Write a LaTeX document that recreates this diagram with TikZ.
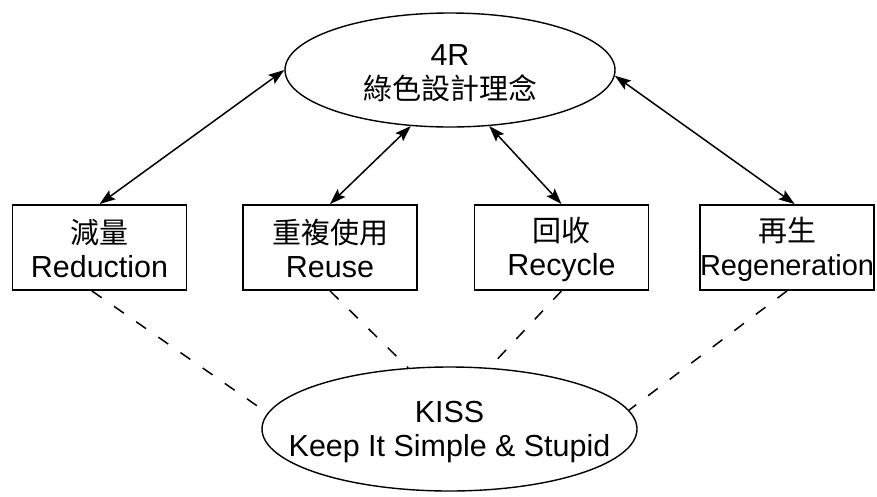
\documentclass[tikz,border=0pt]{standalone}
\usepackage{fontspec}
\setmainfont{Liberation Sans}[Scale=1.05]
\newfontfamily\cjk{Noto Sans CJK TC}
\usetikzlibrary{shapes.geometric,arrows.meta}
\newcommand\vstrut{\rule[-3pt]{0pt}{31pt}}
\begin{document}
\begin{tikzpicture}[x=1pt,y=-1pt,
  txt/.style={font=\fontsize{29}{34}\selectfont, align=center},
  oval/.style={draw, line width=1.4pt, ellipse, inner sep=0pt, txt},
  stagebox/.style={draw, line width=1.8pt, rectangle, minimum width=174pt, minimum height=85pt, inner xsep=0pt, inner ysep=0pt, text width=174pt, txt},
  link/.style={line width=1.5pt, {Stealth[length=16pt,width=11pt,inset=3pt]}-{Stealth[length=16pt,width=11pt,inset=3pt]}},
  dlink/.style={line width=1.5pt, dash pattern=on 12pt off 15pt}
]
\useasboundingbox (0,0) rectangle (877,496);
\node[oval, minimum width=330pt, minimum height=114pt] (top) at (450,70) {\vstrut 4R\\\vstrut{\cjk 綠色設計理念}};
\node[stagebox] (b1) at (99.5,247.5) {\vstrut{\cjk 減量}\\\vstrut Reduction};
\node[stagebox] (b2) at (330,247.5) {\vstrut{\cjk 重複使用}\\\vstrut Reuse};
\node[stagebox] (b3) at (561.5,247.5) {\vstrut{\cjk 回收}\\\vstrut Recycle};
\node[stagebox] (b4) at (787,247.5) {\vstrut{\cjk 再生}\\\vstrut\makebox[0pt]{\fontsize{27.6}{34}\selectfont Regeneration}};
\node[oval, minimum width=375pt, minimum height=124pt] (kiss) at (449.5,429) {\vstrut KISS\\\vstrut\makebox[0pt]{Keep It Simple \& Stupid}};
\draw[link] (top.180) -- (b1.north);
\draw[link] (top.235) -- (b2.north);
\draw[link] (top.305) -- (b3.north);
\draw[link] (top.358) -- (b4.80);
\draw[dlink] (b1.260) -- (kiss.175);
\draw[dlink] (b2.south) -- (kiss.124);
\draw[dlink] (b3.south) -- (kiss.57);
\draw[dlink] (b4.south) -- (kiss.6);
\end{tikzpicture}
\end{document}
